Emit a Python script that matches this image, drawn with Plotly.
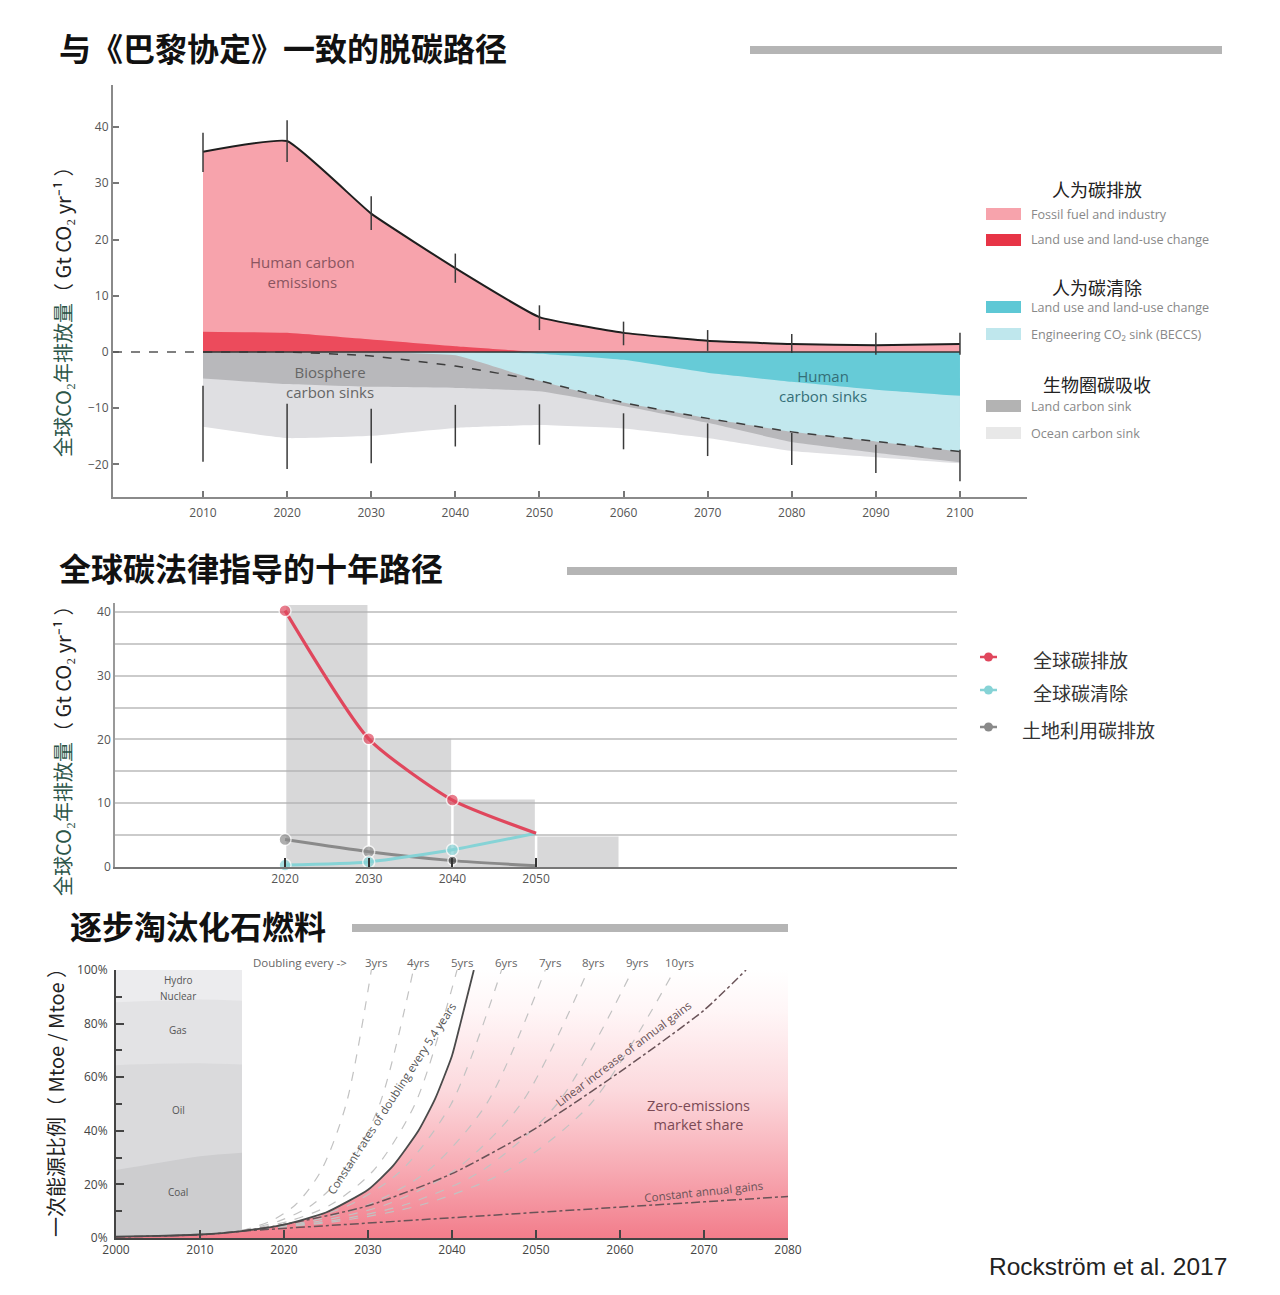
import plotly.graph_objects as go

W, H = 1280, 1295


def px(x):
    return x / W


def py(y):
    return 1 - y / H


# ---------------- Panel 1 data: decarbonisation pathway ----------------
years1 = [2010, 2020, 2030, 2040, 2050, 2060, 2070, 2080, 2090, 2100]
total_emissions = [35.6, 37.5, 24.6, 14.9, 6.2, 3.4, 2.0, 1.4, 1.2, 1.4]
landuse_emissions = [3.6, 3.4, 2.2, 1.0, 0.0, 0.0, 0.0, 0.0, 0.0, 0.0]
landuse_removal = [0, 0, 0, 0, -0.3, -1.4, -3.7, -5.3, -6.7, -7.8]
beccs_lower = [0, 0, 0, -0.6, -5.1, -9.0, -11.8, -14.2, -15.9, -17.7]
sink_boundary = [0, 0, -0.7, -2.5, -5.1, -9.0, -11.8, -14.2, -15.9, -17.7]
land_sink_lower = [-4.7, -5.7, -6.2, -6.4, -7.0, -9.6, -12.6, -16.0, -17.9, -19.6]
ocean_sink_lower = [-13.3, -15.3, -14.9, -13.5, -13.0, -13.6, -15.3, -17.6, -18.7, -19.8]
err_pos_hi = [39.0, 41.2, 27.7, 17.5, 8.3, 5.4, 3.9, 3.2, 3.4, 3.4]
err_pos_lo = [32.0, 33.8, 21.7, 12.3, 3.9, 1.2, 0.2, -0.2, -0.5, -0.5]
err_neg_hi = [-6.0, -9.2, -10.1, -9.4, -9.3, -10.9, -12.7, -14.4, -16.5, -17.4]
err_neg_lo = [-19.5, -20.8, -19.8, -16.8, -16.5, -17.3, -18.5, -20.1, -21.5, -23.0]
yticks1 = [-20, -10, 0, 10, 20, 30, 40]

legend1_groups = ["人为碳排放", "人为碳清除", "生物圈碳吸收"]
legend1_items = [
    "Fossil fuel and industry",
    "Land use and land-use change",
    "Land use and land-use change",
    "Engineering CO₂ sink (BECCS)",
    "Land carbon sink",
    "Ocean carbon sink",
]

# ---------------- Panel 2 data: carbon law ----------------
years2 = [2020, 2030, 2040, 2050]
global_emissions = [40.2, 20.1, 10.5, 5.3]
global_removal = [0.3, 0.8, 2.7, 5.3]
landuse_emis2 = [4.3, 2.4, 1.0, 0.2]
bar_centers = [2025, 2035, 2045, 2055]
bar_values = [41.1, 20.1, 10.6, 4.8]
yticks2 = [0, 10, 20, 30, 40]
legend2_labels = ["全球碳排放", "全球碳清除", "土地利用碳排放"]

# ---------------- Panel 3 data: phase-out fossil fuels ----------------
years_hist = [2000, 2005, 2010, 2015]
coal_top = [25.4, 28.0, 30.5, 31.8]
oil_top = [64.5, 65.0, 65.2, 64.7]
gas_top = [88.0, 88.5, 89.0, 88.5]
hydro_nuclear_top = [100, 100, 100, 100]
hist_labels = ["Hydro", "Nuclear", "Gas", "Oil", "Coal"]
hist_label_values = [96.3, 90.3, 77.6, 47.8, 17.2]

zero_years = [2000, 2005, 2010, 2015, 2020, 2025, 2030, 2033, 2036, 2038, 2040, 2041, 2042.6]
zero_share = [0.5, 0.8, 1.3, 2.6, 5.0, 9.5, 18, 27, 40, 52, 68, 80, 100]
fill_years = zero_years + [2080]
fill_share = zero_share + [100]

dbl_share = [2.8, 6.3, 12.5, 25, 50, 100]
dbl_3yrs = [2015, 2018.4, 2021.4, 2024.4, 2027.4, 2030.4]
dbl_4yrs = [2015, 2019.4, 2023.4, 2027.4, 2031.4, 2035.4]
dbl_5yrs = [2015, 2020.6, 2025.6, 2030.6, 2035.6, 2040.6]
dbl_6yrs = [2015, 2021.9, 2027.9, 2033.9, 2039.9, 2045.9]
dbl_7yrs = [2015, 2023.1, 2030.1, 2037.1, 2044.1, 2051.1]
dbl_8yrs = [2015, 2024.2, 2032.2, 2040.2, 2048.2, 2056.2]
dbl_9yrs = [2015, 2025.5, 2034.5, 2043.5, 2052.5, 2061.5]
dbl_10yrs = [2015, 2026.5, 2036.5, 2046.5, 2056.5, 2066.5]
doubling_labels = ["3yrs", "4yrs", "5yrs", "6yrs", "7yrs", "8yrs", "9yrs", "10yrs"]
doubling_curves = [dbl_3yrs, dbl_4yrs, dbl_5yrs, dbl_6yrs, dbl_7yrs, dbl_8yrs, dbl_9yrs, dbl_10yrs]

linear_years = [2000, 2010, 2015, 2020, 2030, 2040, 2050, 2060, 2070, 2075]
linear_share = [0.4, 1.2, 2.6, 5, 12, 24, 41, 62, 85, 100]
const_years = [2015, 2030, 2040, 2050, 2060, 2070, 2080]
const_share = [2.6, 5.5, 7.5, 9.5, 11.5, 13.5, 15.5]
xticks3 = [2000, 2010, 2020, 2030, 2040, 2050, 2060, 2070, 2080]
yticks3 = [0, 20, 40, 60, 80, 100]

# ---------------- styles ----------------
C_FOSSIL = "#f7a3ac"
C_LUE = "#ec4b5c"
C_TEAL = "#66cbd7"
C_CYAN = "#c2e8ee"
C_LAND = "#b8b8bb"
C_OCEAN = "#dfdfe2"
FONT = "Open Sans, Noto Sans CJK SC, sans-serif"
CJK = "Noto Sans CJK SC"

fig = go.Figure()

sp = dict(shape="spline", smoothing=0.35)


def area(x, y, color, xa="x", ya="y"):
    fig.add_trace(go.Scatter(x=x, y=y, xaxis=xa, yaxis=ya, mode="lines", fill="tozeroy",
                             fillcolor=color, line=dict(width=0, color=color, **sp),
                             hoverinfo="skip", showlegend=False))


area(years1, total_emissions, C_FOSSIL)
area(years1, landuse_emissions, C_LUE)
area(years1, ocean_sink_lower, C_OCEAN)
area(years1, land_sink_lower, C_LAND)
area(years1, beccs_lower, C_CYAN)
area(years1, landuse_removal, C_TEAL)

fig.add_trace(go.Scatter(x=years1, y=sink_boundary, mode="lines", xaxis="x", yaxis="y",
                         line=dict(color="#3d3d3d", width=1.5, dash="dash", **sp),
                         hoverinfo="skip", showlegend=False))
fig.add_trace(go.Scatter(x=years1, y=total_emissions, mode="lines", xaxis="x", yaxis="y",
                         line=dict(color="#1e1e1e", width=2, **sp),
                         hoverinfo="skip", showlegend=False))


def segs(xs, lo, hi):
    X, Y = [], []
    for x, a, b in zip(xs, lo, hi):
        X += [x, x, None]
        Y += [a, b, None]
    return X, Y


for lo, hi in [(err_pos_lo, err_pos_hi), (err_neg_lo, err_neg_hi)]:
    X, Y = segs(years1, lo, hi)
    fig.add_trace(go.Scatter(x=X, y=Y, mode="lines", xaxis="x", yaxis="y",
                             line=dict(color="#3a3a3a", width=1.5),
                             hoverinfo="skip", showlegend=False))

# ---------------- Panel 2 traces ----------------
fig.add_trace(go.Bar(x=bar_centers, y=bar_values, width=9.7, xaxis="x2", yaxis="y2",
                     marker=dict(color="rgba(178,178,180,0.5)", line=dict(width=0)),
                     hoverinfo="skip", showlegend=False))

sp2 = dict(shape="spline", smoothing=0.6)
fig.add_trace(go.Scatter(x=years2, y=landuse_emis2, mode="lines+markers", xaxis="x2", yaxis="y2",
                         line=dict(color="#8a8a8a", width=3, **sp2),
                         marker=dict(size=[12, 12, 9, 0], color=["#8c8c8c", "#8c8c8c", "#4a4a4a", "#8c8c8c"],
                                     line=dict(color="white", width=1.5)),
                         cliponaxis=False, hoverinfo="skip", showlegend=False))
fig.add_trace(go.Scatter(x=years2, y=global_removal, mode="lines+markers", xaxis="x2", yaxis="y2",
                         line=dict(color="#86d3d6", width=3, **sp2),
                         marker=dict(size=[12, 12, 12, 0], color="#86d3d6", line=dict(color="white", width=1.5)),
                         cliponaxis=False, hoverinfo="skip", showlegend=False))
fig.add_trace(go.Scatter(x=years2, y=global_emissions, mode="lines+markers", xaxis="x2", yaxis="y2",
                         line=dict(color="#e0475d", width=3.2, **sp2),
                         marker=dict(size=[12, 12, 12, 0], color="#e0475d", line=dict(color="white", width=1.5)),
                         cliponaxis=False, hoverinfo="skip", showlegend=False))

# ---------------- Panel 3 traces ----------------
for top, col in [(hydro_nuclear_top, "#ececee"), (gas_top, "#e3e3e5"),
                 (oil_top, "#dadadc"), (coal_top, "#cdcdcf")]:
    fig.add_trace(go.Scatter(x=years_hist, y=top, mode="lines", xaxis="x3", yaxis="y3",
                             fill="tozeroy", fillcolor=col, line=dict(width=0, color=col, shape="spline"),
                             hoverinfo="skip", showlegend=False))

fig.add_trace(go.Scatter(x=fill_years, y=fill_share, mode="lines", xaxis="x3", yaxis="y3",
                         fill="tozeroy", line=dict(width=0, color="#f3808d", shape="spline", smoothing=0.5),
                         fillgradient=dict(type="vertical", start=0, stop=100,
                                           colorscale=[[0, "#f27d8b"], [0.25, "#f7a9b2"], [0.55, "#fcd9dd"],
                                                       [0.85, "#fff6f7"], [1, "#ffffff"]]),
                         hoverinfo="skip", showlegend=False))

for xs in doubling_curves:
    fig.add_trace(go.Scatter(x=xs, y=dbl_share, mode="lines", xaxis="x3", yaxis="y3",
                             line=dict(color="#c2c2c2", width=1.2, dash="dash", shape="spline", smoothing=0.8),
                             hoverinfo="skip", showlegend=False))

fig.add_trace(go.Scatter(x=const_years, y=const_share, mode="lines", xaxis="x3", yaxis="y3",
                         line=dict(color="#6a5358", width=1.5, dash="dashdot"),
                         hoverinfo="skip", showlegend=False))
fig.add_trace(go.Scatter(x=linear_years, y=linear_share, mode="lines", xaxis="x3", yaxis="y3",
                         line=dict(color="#6a5358", width=1.5, dash="dashdot", shape="spline", smoothing=0.6),
                         hoverinfo="skip", showlegend=False))
fig.add_trace(go.Scatter(x=zero_years, y=zero_share, mode="lines", xaxis="x3", yaxis="y3",
                         line=dict(color="#4a4a4a", width=1.8, shape="spline", smoothing=0.5),
                         hoverinfo="skip", showlegend=False))

# ---------------- annotations & shapes ----------------
A = []
S = []

titles = [("与《巴黎协定》一致的脱碳路径", 57, 47, 750, 1222, 50),
          ("全球碳法律指导的十年路径", 57, 567, 567, 957, 571),
          ("逐步淘汰化石燃料", 68, 925, 352, 788, 928)]
for t, tx, ty, b0, b1, by in titles:
    A.append(dict(text="<b>%s</b>" % t, x=px(tx), y=py(ty), xref="paper", yref="paper",
                  xanchor="left", yanchor="middle", showarrow=False,
                  font=dict(family=CJK, size=32, color="#111")))
    S.append(dict(type="rect", xref="paper", yref="paper", x0=px(b0), x1=px(b1),
                  y0=py(by + 4), y1=py(by - 4), fillcolor="#b5b5b5", line=dict(width=0)))

ytitle = "<span style='color:#2c5548'>全球CO₂年排放量</span>（ Gt CO₂ yr⁻¹ ）"
for cy in (307, 746):
    A.append(dict(text=ytitle, x=px(62), y=py(cy), xref="paper", yref="paper", textangle=-90,
                  xanchor="center", yanchor="middle", showarrow=False,
                  font=dict(family=CJK, size=20, color="#222")))
A.append(dict(text="一次能源比例（ Mtoe / Mtoe ）", x=px(55), y=py(1098), xref="paper", yref="paper",
              textangle=-90, xanchor="center", yanchor="middle", showarrow=False,
              font=dict(family=CJK, size=20, color="#222")))

# panel 1 in-chart labels
A.append(dict(text="Human carbon<br>emissions", x=2021.8, y=14.2, xref="x", yref="y", showarrow=False,
              font=dict(family=FONT, size=15, color="#8a5560")))
A.append(dict(text="Biosphere<br>carbon sinks", x=2025.1, y=-5.4, xref="x", yref="y", showarrow=False,
              font=dict(family=FONT, size=15, color="#666")))
A.append(dict(text="Human<br>carbon sinks", x=2083.7, y=-6.0, xref="x", yref="y", showarrow=False,
              font=dict(family=FONT, size=15, color="#356f78")))

# panel 1 legend
for g, gy in zip(legend1_groups, [189, 287, 384]):
    A.append(dict(text=g, x=px(1097), y=py(gy), xref="paper", yref="paper", showarrow=False,
                  xanchor="center", yanchor="middle", font=dict(family=CJK, size=18, color="#222")))
sw_cols = [C_FOSSIL, "#e73446", "#5ec8d5", "#bfe7ed", "#b3b3b3", "#e8e8e8"]
for lab, col, ly in zip(legend1_items, sw_cols, [214, 240, 307, 334, 406, 433]):
    S.append(dict(type="rect", xref="paper", yref="paper", x0=px(986), x1=px(1021),
                  y0=py(ly + 6), y1=py(ly - 6), fillcolor=col, line=dict(width=0)))
    A.append(dict(text=lab, x=px(1029), y=py(ly), xref="paper", yref="paper", showarrow=False,
                  xanchor="left", yanchor="middle", font=dict(family=FONT, size=12.6, color="#888")))

# panel 1 zero lines
S.append(dict(type="line", xref="x", yref="y", x0=1999.3, x1=years1[0], y0=0, y1=0,
              line=dict(color="#555", width=1.5, dash="dash")))
S.append(dict(type="line", xref="x", yref="y", x0=years1[0], x1=years1[-1], y0=0, y1=0,
              line=dict(color="#333", width=1.5)))

# panel 2 legend
for lab, col, ly in zip(legend2_labels, ["#e0475d", "#86d3d6", "#8a8a8a"], [657, 690, 727]):
    S.append(dict(type="line", xref="paper", yref="paper", x0=px(980), x1=px(997),
                  y0=py(ly), y1=py(ly), line=dict(color=col, width=2.5)))
    S.append(dict(type="circle", xref="paper", yref="paper", x0=px(984), x1=px(993),
                  y0=py(ly + 4.5), y1=py(ly - 4.5), fillcolor=col, line=dict(width=0)))
    A.append(dict(text=lab, x=px(1088 if len(lab) > 5 else 1080), y=py(ly + 2), xref="paper", yref="paper",
                  showarrow=False, xanchor="center", yanchor="middle",
                  font=dict(family=CJK, size=19, color="#333")))

# panel 3 labels (above the plot area, so y in paper units)
A.append(dict(text="Doubling every ->", x=2021.9, y=py(962), xref="x3", yref="paper", showarrow=False,
              yanchor="middle", font=dict(family=FONT, size=11.5, color="#666")))
for lab, xs in zip(doubling_labels, doubling_curves):
    A.append(dict(text=lab, x=xs[-1] + 0.6, y=py(962), xref="x3", yref="paper", showarrow=False,
                  yanchor="middle", font=dict(family=FONT, size=11.5, color="#666")))
for lab, v in zip(hist_labels, hist_label_values):
    A.append(dict(text=lab, x=2007.4, y=v, xref="x3", yref="y3", showarrow=False,
                  font=dict(family=FONT, size=10, color="#555")))
A.append(dict(text="Zero-emissions<br>market share", x=2069.4, y=46, xref="x3", yref="y3",
              showarrow=False, font=dict(family=FONT, size=14.5, color="#7a4a55")))
A.append(dict(text="Constant rates of doubling every 5.4 years", x=2032.8, y=52, xref="x3", yref="y3",
              textangle=-57, showarrow=False, font=dict(family=FONT, size=11.5, color="#555")))
A.append(dict(text="Linear increase of annual gains", x=2060.4, y=69, xref="x3", yref="y3",
              textangle=-37, showarrow=False, font=dict(family=FONT, size=11.5, color="#6a5358")))
A.append(dict(text="Constant annual gains", x=2069.9, y=17.5, xref="x3", yref="y3",
              textangle=-6, showarrow=False, font=dict(family=FONT, size=11.5, color="#6a5358")))

A.append(dict(text="Rockström et al. 2017", x=px(1108), y=py(1266), xref="paper", yref="paper",
              showarrow=False, xanchor="center", yanchor="middle",
              font=dict(family="Liberation Sans, Arial", size=24.5, color="#222")))

tickfont = dict(family=FONT, size=12, color="#555")

fig.update_layout(
    width=W, height=H, autosize=False,
    margin=dict(l=0, r=0, t=0, b=0, pad=0, autoexpand=False),
    paper_bgcolor="white", plot_bgcolor="white", font=dict(family=FONT),
    showlegend=False, barmode="overlay",
    annotations=A, shapes=S,
    xaxis=dict(domain=[px(113), px(1027)], range=[1999.3, 2107.97], anchor="y",
               tickvals=years1, ticks="inside", ticklen=6, tickwidth=1.5, tickcolor="#777",
               ticklabelstandoff=4,
               showline=True, linecolor="#8a8a8a", linewidth=2, showgrid=False, zeroline=False,
               tickfont=tickfont),
    yaxis=dict(domain=[py(497), py(85)], range=[-25.78, 47.47], anchor="x",
               tickvals=yticks1, ticks="inside", ticklen=6, tickwidth=1.5, tickcolor="#777",
               showline=True, linecolor="#8a8a8a", linewidth=2, showgrid=False, zeroline=False,
               tickfont=tickfont),
    xaxis2=dict(domain=[px(115), px(957)], range=[1999.68, 2100.3], anchor="y2",
                tickvals=years2, ticks="inside", ticklen=9, tickwidth=2, tickcolor="#333",
                showline=True, linecolor="#777", linewidth=2, showgrid=False, zeroline=False,
                tickfont=tickfont),
    yaxis2=dict(domain=[py(867), py(603)], range=[0, 41.4], anchor="x2",
                tickvals=yticks2,
                minor=dict(dtick=5, showgrid=True, gridcolor="#cbcbcb", gridwidth=1.5, ticks=""),
                showline=True, linecolor="#999", linewidth=1.5, showgrid=True,
                gridcolor="#cbcbcb", gridwidth=1.5, zeroline=False, ticks="",
                tickfont=tickfont),
    xaxis3=dict(domain=[px(116), px(788)], range=[2000, 2080], anchor="y3",
                tickvals=xticks3, ticks="inside", ticklen=8, tickwidth=1.5, tickcolor="#444",
                showline=True, linecolor="#444", linewidth=2, showgrid=False, zeroline=False,
                tickfont=dict(family=FONT, size=12, color="#444")),
    yaxis3=dict(domain=[py(1238), py(970)], range=[0, 100], anchor="x3",
                tickvals=yticks3, ticktext=["%d%%" % v for v in yticks3],
                ticks="inside", ticklen=8, tickwidth=1.5, tickcolor="#444", ticklabelstandoff=4,
                minor=dict(dtick=10, ticks="inside", ticklen=6, tickcolor="#444"),
                showline=True, linecolor="#444", linewidth=2, showgrid=False, zeroline=False,
                tickfont=dict(family=FONT, size=12, color="#444")),
)

fig.write_html("out.html", config={"displayModeBar": False, "responsive": False},
               post_script="document.body.style.margin='0';document.body.style.overflow='hidden';")
